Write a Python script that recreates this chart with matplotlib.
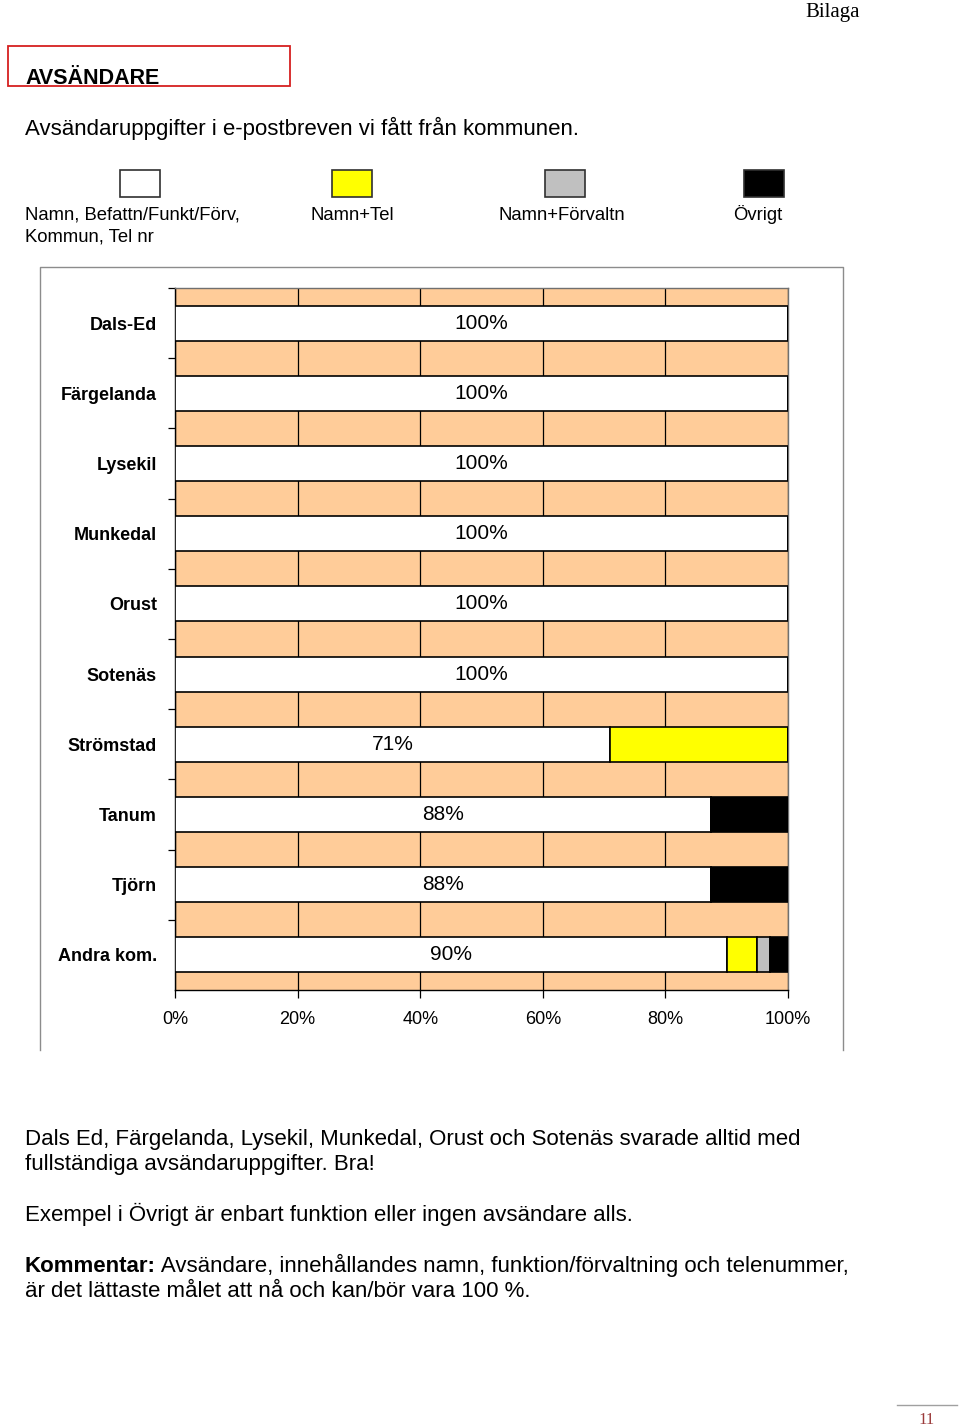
import matplotlib
matplotlib.use("Agg")
import matplotlib.pyplot as plt
from matplotlib.patches import Rectangle
from matplotlib.ticker import FixedLocator, PercentFormatter

plt.rcParams['font.family'] = ['Liberation Sans', 'DejaVu Sans']

# data
kommuner = ['Dals-Ed', 'Färgelanda', 'Lysekil', 'Munkedal', 'Orust',
            'Sotenäs', 'Strömstad', 'Tanum', 'Tjörn', 'Andra kom.']
namn_full = [100, 100, 100, 100, 100, 100, 71, 87.5, 87.5, 90]
namn_tel = [0, 0, 0, 0, 0, 0, 29, 0, 0, 5]
namn_forv = [0, 0, 0, 0, 0, 0, 0, 0, 0, 2]
ovrigt = [0, 0, 0, 0, 0, 0, 0, 12.5, 12.5, 3]

serier = [namn_full, namn_tel, namn_forv, ovrigt]
serie_namn = ['Namn, Befattn/Funkt/Förv,\nKommun, Tel nr', 'Namn+Tel',
              'Namn+Förvaltn', 'Övrigt']
farger = ['#FFFFFF', '#FFFF00', '#C0C0C0', '#000000']

W, H = 960, 1427
fig = plt.figure(figsize=(W / 100, H / 100), dpi=100)

# page overlay in pixel coordinates
page = fig.add_axes([0, 0, 1, 1], zorder=0)
page.set_xlim(0, W)
page.set_ylim(H, 0)
page.axis('off')

page.text(860, 17, 'Bilaga', family='Liberation Serif', fontsize=15,
          ha='right', va='baseline')
page.add_patch(Rectangle((8, 46), 282, 40, fill=False, edgecolor='#D62020', lw=1.3))
page.text(25, 84, 'AVSÄNDARE', fontsize=15.5, fontweight='bold', va='baseline')
page.text(25, 135, 'Avsändaruppgifter i e-postbreven vi fått från kommunen.',
          fontsize=16, va='baseline')

# legend: swatch above label
leg_swatch_x = [120, 332, 545, 744]
leg_text_x = [25, 311, 499, 733]
for sx, tx, namn, col in zip(leg_swatch_x, leg_text_x, serie_namn, farger):
    page.add_patch(Rectangle((sx, 170), 40, 27, facecolor=col,
                             edgecolor='#303030', lw=1.2))
    for i, rad in enumerate(namn.split('\n')):
        page.text(tx, 220 + 22 * i, rad, fontsize=13.3, va='baseline')

# chart frame
page.plot([40, 40, 843, 843], [1050, 267, 267, 1050], color='#8C8C8C', lw=1)

# chart
ax = fig.add_axes([175 / W, 1 - 990 / H, 613 / W, 702 / H], zorder=1)
ax.set_facecolor('#FFCC99')
y = list(range(len(kommuner)))
left = [0] * len(kommuner)
for vals, col in zip(serier, farger):
    ax.barh(y, vals, left=left, height=0.5, color=col, edgecolor='black',
            lw=1.2, zorder=3)
    left = [l + v for l, v in zip(left, vals)]

for yi, v in zip(y, namn_full):
    ax.text(v / 2, yi, f'{v:.0f}%', ha='center', va='center', fontsize=15,
            zorder=4)

ax.set_xlim(0, 100)
ax.set_ylim(len(kommuner) - 0.5, -0.5)
ax.xaxis.set_major_locator(FixedLocator([0, 20, 40, 60, 80, 100]))
ax.xaxis.set_major_formatter(PercentFormatter(decimals=0))
ax.grid(axis='x', color='black', lw=0.9, zorder=1)
ax.set_yticks(y)
ax.set_yticklabels(kommuner, fontweight='bold', fontsize=13)
ax.yaxis.set_minor_locator(FixedLocator([i - 0.5 for i in range(len(kommuner))]))
ax.tick_params(axis='y', which='major', length=0, pad=13)
ax.tick_params(axis='y', which='minor', length=5, width=0.9, direction='out')
ax.tick_params(axis='x', length=6, width=0.9, labelsize=13, pad=9)
for s in ['left', 'bottom']:
    ax.spines[s].set_color('black')
    ax.spines[s].set_linewidth(1)
for s in ['top', 'right']:
    ax.spines[s].set_color('#707070')
    ax.spines[s].set_linewidth(1)

# comments
page.text(25, 1145, 'Dals Ed, Färgelanda, Lysekil, Munkedal, Orust och Sotenäs svarade alltid med',
          fontsize=16, va='baseline')
page.text(25, 1170, 'fullständiga avsändaruppgifter. Bra!', fontsize=16, va='baseline')
page.text(25, 1221, 'Exempel i Övrigt är enbart funktion eller ingen avsändare alls.',
          fontsize=16, va='baseline')
kom = page.text(25, 1272, 'Kommentar:', fontsize=16, fontweight='bold', va='baseline')
page.annotate(' Avsändare, innehållandes namn, funktion/förvaltning och telenummer,',
              xy=(1, 0), xycoords=kom, fontsize=16, va='bottom')
page.text(25, 1297, 'är det lättaste målet att nå och kan/bör vara 100 %.',
          fontsize=16, va='baseline')

# page number
page.plot([897, 957], [1405, 1405], color='#A0A0A0', lw=1)
page.text(927, 1424, '11', family='Liberation Serif', fontsize=12,
          color='#9B3A3A', ha='center', va='baseline')

fig.savefig('out.png', dpi=100)
